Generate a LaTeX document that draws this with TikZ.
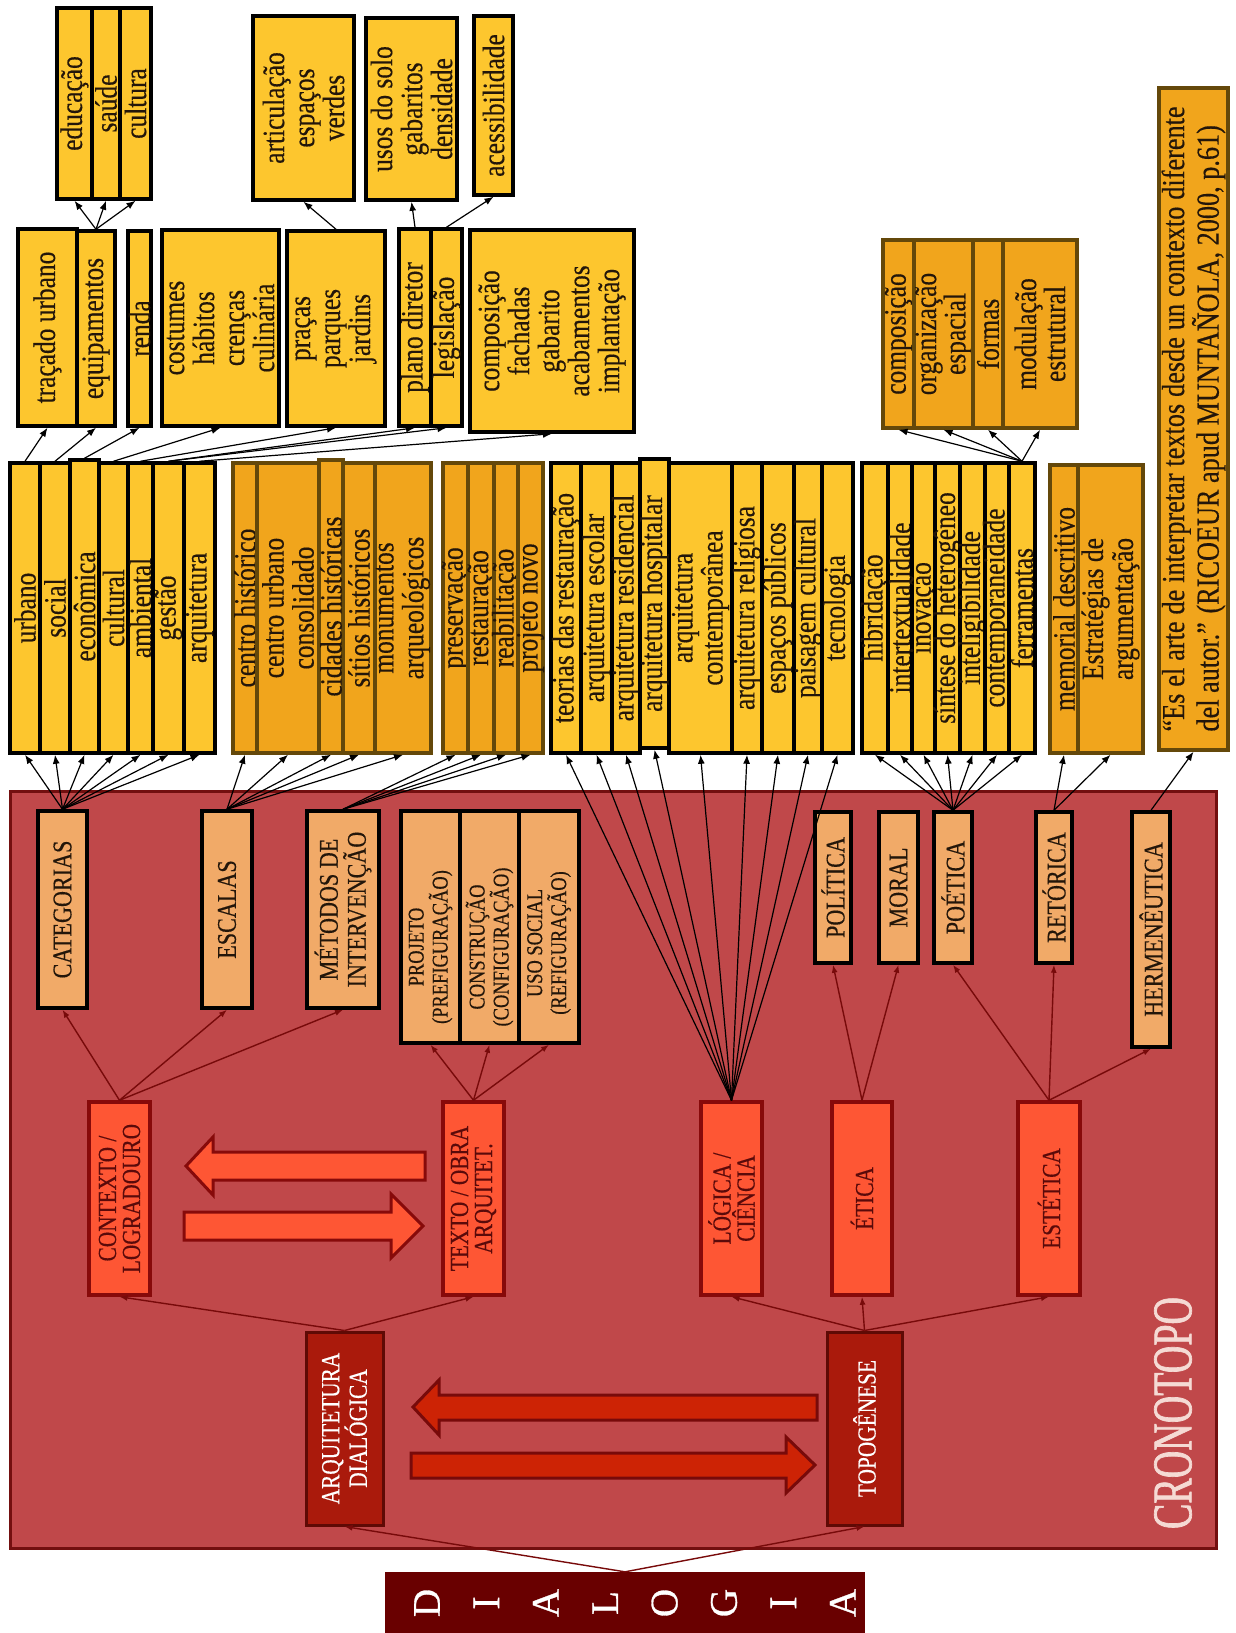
\documentclass[tikz,border=0pt]{standalone}
\usepackage{fontspec}
\setmainfont{Liberation Serif}
\newfontfamily\dgfont{Liberation Serif}[FakeStretch=0.82,FakeBold=0.4]
\newfontfamily\crfont{Liberation Serif}[FakeStretch=0.68,FakeBold=1.2]
\newfontfamily\dlfont{Liberation Serif}[FakeBold=0.8]
\usetikzlibrary{arrows.meta}
\definecolor{yel}{RGB}{253,198,46}
\definecolor{org}{RGB}{241,165,28}
\definecolor{olv}{RGB}{100,72,10}
\definecolor{tanc}{RGB}{241,170,104}
\definecolor{redbg}{RGB}{192,72,74}
\definecolor{redbd}{RGB}{115,15,15}
\definecolor{lonec}{RGB}{254,86,52}
\definecolor{loned}{RGB}{135,10,10}
\definecolor{lzeroc}{RGB}{170,26,12}
\definecolor{lzerod}{RGB}{95,10,5}
\definecolor{dialc}{RGB}{105,0,0}
\definecolor{arrtwo}{RGB}{205,35,5}
\definecolor{rdline}{RGB}{120,10,10}
\definecolor{txtd}{RGB}{35,22,10}
\definecolor{txtr}{RGB}{90,10,10}
\definecolor{cronoc}{RGB}{245,218,212}
\newcommand\mycell[8]{%
  \node[#6, minimum width={(#4-#2)*1pt}, minimum height={(#5-#3)*1pt}, inner sep=0pt] (#1) at ({(#2+#4)/2},{(#3+#5)/2}) {};
  \node[#7] (#1t) at (#1.center) {#8};}
\newcommand\mycellsh[9]{%
  \node[#6, minimum width={(#4-#2)*1pt}, minimum height={(#5-#3)*1pt}, inner sep=0pt] (#1) at ({(#2+#4)/2},{(#3+#5)/2}) {};
  \node[#7] (#1t) at ([yshift=#8]#1.center) {#9};}
\begin{document}
\begin{tikzpicture}[x=1pt,y=-1pt,
  yb/.style={draw=black, line width=3.5pt, fill=yel},
  ob/.style={draw=olv, line width=3.5pt, fill=org},
  tb/.style={draw=black, line width=3.5pt, fill=tanc},
  lone/.style={draw=loned, line width=3.5pt, fill=lonec},
  lzero/.style={draw=lzerod, line width=3pt, fill=lzeroc},
  txbase/.style={rotate=90, align=center, inner sep=0pt},
  ty/.style={txbase, text=txtd, font=\dgfont\fontsize{31}{30}\selectfont},
  tg/.style={txbase, text=txtd, font=\dgfont\fontsize{31}{28}\selectfont},
  tc/.style={txbase, text=txtd, font=\dgfont\fontsize{27}{28}\selectfont},
  tp/.style={txbase, text=txtd, font=\dgfont\fontsize{22.5}{24}\selectfont},
  tone/.style={txbase, text=txtr, font=\dgfont\fontsize{26}{24}\selectfont},
  tzero/.style={txbase, text=white, font=\dgfont\fontsize{26}{26}\selectfont},
  blk/.style={draw=black, line width=1.2pt, -{Latex[length=9pt,width=7pt]}},
  rdc/.style={draw=rdline, line width=1.4pt, -{Latex[length=8pt,width=6pt]}},
  bigone/.style={draw=loned, line width=3pt, fill=lonec, line join=miter},
  bigtwo/.style={draw=rdline, line width=3pt, fill=arrtwo, line join=miter}]
\useasboundingbox (0,0) rectangle (1235,1633);

% big red region
\node[draw=redbd, line width=3pt, fill=redbg, minimum width=1206pt, minimum height=757pt, inner sep=0pt] (cronobox) at (613,1169.5) {};
\node[rotate=90, text=cronoc, font=\crfont\fontsize{56}{56}\selectfont, inner sep=0pt] (crono) at (1173,1413) {CRONOTOPO};

% block arrows
\draw[bigone] (425,1152) -- (213,1152) -- (213,1137) -- (186,1166) -- (213,1195) -- (213,1180) -- (425,1180) -- cycle;
\draw[bigone] (184,1212) -- (391,1212) -- (391,1194) -- (423,1226) -- (391,1258) -- (391,1240) -- (184,1240) -- cycle;
\draw[bigtwo] (817,1395) -- (439,1395) -- (439,1380) -- (413,1407) -- (439,1435) -- (439,1420) -- (817,1420) -- cycle;
\draw[bigtwo] (411,1453) -- (786,1453) -- (786,1437) -- (815,1465) -- (786,1493) -- (786,1478) -- (411,1478) -- cycle;

% DIALOGIA
\node[fill=dialc, minimum width=480pt, minimum height=61pt, inner sep=0pt] (dialogia) at (625,1602.5) {};
\foreach \l [count=\i] in {D,I,A,L,O,G,I,A}
  \node[rotate=90, text=white, font=\dlfont\fontsize{39}{39}\selectfont, inner sep=0pt] (dl\i) at ({427+(\i-1)*59.4},1603) {\l};

% level 0
\mycell{arq}{306}{1332}{383}{1525}{lzero}{tzero}{ARQUITETURA\\DIALÓGICA}
\mycell{topo}{827}{1332}{902}{1525}{lzero}{tzero}{TOPOGÊNESE}

% level 1
\mycell{ctx}{89}{1102}{150}{1295}{lone}{tone}{CONTEXTO /\\LOGRADOURO}
\mycell{txt}{443}{1102}{504}{1295}{lone}{tone}{TEXTO / OBRA\\ARQUITET.}
\mycell{logi}{701}{1102}{762}{1295}{lone}{tone}{LÓGICA /\\CIÊNCIA}
\mycell{etic}{832}{1102}{892}{1295}{lone}{tone}{ÉTICA}
\mycell{este}{1018}{1102}{1080}{1295}{lone}{tone}{ESTÉTICA}

% level 2 (inside red)
\mycell{categ}{38}{811}{87}{1008}{tb}{tc}{CATEGORIAS}
\mycell{escal}{202}{811}{252}{1008}{tb}{tc}{ESCALAS}
\mycell{metod}{307}{811}{379}{1008}{tb}{tc}{MÉTODOS DE\\INTERVENÇÃO}
\mycellsh{proj}{401}{811}{460}{1043}{tb}{tp}{-20pt}{PROJETO\\(PREFIGURAÇÃO)}
\mycellsh{constr}{460}{811}{519}{1043}{tb}{tp}{-20pt}{CONSTRUÇÃO\\(CONFIGURAÇÃO)}
\mycellsh{usoso}{519}{811}{579}{1043}{tb}{tp}{-16pt}{USO SOCIAL\\(REFIGURAÇÃO)}
\mycell{polit}{815}{812}{851}{963}{tb}{tc}{POLÍTICA}
\mycell{moral}{879}{812}{918}{963}{tb}{tc}{MORAL}
\mycell{poet}{934}{812}{972}{963}{tb}{tc}{POÉTICA}
\mycell{retor}{1036}{812}{1072}{963}{tb}{tc}{RETÓRICA}
\mycell{herm}{1132}{812}{1170}{1047}{tb}{tc}{HERMENÊUTICA}

% group A
\mycell{urbano}{10}{463}{40}{753}{yb}{ty}{urbano}
\mycell{social}{40}{463}{70}{753}{yb}{ty}{social}
\mycell{econ}{70}{460}{99}{753}{yb}{ty}{econômica}
\mycell{cultural}{99}{463}{128}{753}{yb}{ty}{cultural}
\mycell{ambient}{128}{463}{153}{753}{yb}{ty}{ambiental}
\mycell{gestao}{153}{463}{184}{753}{yb}{ty}{gestão}
\mycell{arqui}{184}{463}{215}{753}{yb}{ty}{arquitetura}
% group B
\mycell{ch}{233}{463}{257}{753}{ob}{ty}{centro histórico}
\mycell{cuc}{257}{463}{319}{753}{ob}{ty}{centro urbano\\consolidado}
\mycell{sitios}{343}{463}{375}{753}{ob}{ty}{sítios históricos}
\mycell{monu}{375}{463}{431}{753}{ob}{ty}{monumentos\\arqueológicos}
\mycell{cidh}{319}{460}{343}{753}{ob}{ty}{cidades históricas}
% group C
\mycell{pres}{443}{463}{468}{753}{ob}{ty}{preservação}
\mycell{rest}{468}{463}{494}{753}{ob}{ty}{restauração}
\mycell{reab}{494}{463}{518}{753}{ob}{ty}{reabilitação}
\mycell{pnovo}{518}{463}{543}{753}{ob}{ty}{projeto novo}
% group D
\mycell{teor}{551}{463}{581}{753}{yb}{ty}{teorias das restauração}
\mycell{aesc}{581}{463}{612}{753}{yb}{ty}{arquitetura escolar}
\mycell{ares}{612}{463}{640}{753}{yb}{ty}{arquitetura residencial}
\mycell{acont}{669}{463}{732}{753}{yb}{ty}{arquitetura\\contemporânea}
\mycell{ahosp}{640}{459}{669}{748}{yb}{ty}{arquitetura hospitalar}
\mycell{arel}{732}{463}{762}{753}{yb}{ty}{arquitetura religiosa}
\mycell{esp}{762}{463}{794}{753}{yb}{ty}{espaços públicos}
\mycell{pais}{794}{463}{822}{753}{yb}{ty}{paisagem cultural}
\mycell{tec}{822}{463}{853}{753}{yb}{ty}{tecnologia}
% group E
\mycell{hib}{862}{463}{888}{753}{yb}{ty}{hibridação}
\mycell{inter}{888}{463}{912}{753}{yb}{ty}{intertextualidade}
\mycell{inov}{912}{463}{935}{753}{yb}{ty}{inovação}
\mycell{sint}{935}{463}{960}{753}{yb}{ty}{síntese do heterogêneo}
\mycell{intel}{960}{463}{985}{753}{yb}{ty}{inteligibilidade}
\mycell{contemp}{985}{463}{1009}{753}{yb}{ty}{contemporaneidade}
\mycell{ferr}{1009}{463}{1035}{753}{yb}{ty}{ferramentas}
% group F
\mycell{memo}{1050}{465}{1078}{753}{ob}{ty}{memorial descritivo}
\mycell{estr}{1078}{465}{1143}{753}{ob}{ty}{Estratégias de\\argumentação}
% quote
\node[ob, minimum width=69pt, minimum height=662pt, inner sep=0pt] (quote) at (1193.5,419) {};
\node[rotate=90, align=left, inner sep=0pt, text=txtd, font=\dgfont\fontsize{32}{32}\selectfont] (quotet) at (quote.center)
  {\makebox[625pt][s]{“Es el arte de interpretar textos desde un contexto diferente}\\del autor.” (RICOEUR apud MUNTAÑOLA, 2000, p.61)};
% group G
\mycell{gcomp}{883}{240}{914}{428}{ob}{tg}{composição}
\mycell{gorg}{914}{240}{973}{428}{ob}{tg}{organização\\espacial}
\mycell{gform}{973}{240}{1003}{428}{ob}{tg}{formas}
\mycell{gmod}{1003}{240}{1077}{428}{ob}{tg}{modulação\\estrutural}

% level 2 top
\mycell{trac}{18}{229}{77}{426}{yb}{ty}{traçado urbano}
\mycell{equip}{77}{231}{115}{426}{yb}{ty}{equipamentos}
\mycell{renda}{128}{231}{151}{426}{yb}{ty}{renda}
\mycell{cost}{162}{230}{279}{426}{yb}{ty}{costumes\\hábitos\\crenças\\culinária}
\mycell{prac}{287}{231}{385}{426}{yb}{ty}{praças\\parques\\jardins}
\mycell{plano}{399}{229}{431}{426}{yb}{ty}{plano diretor}
\mycell{legis}{431}{229}{462}{426}{yb}{ty}{legislação}
\mycell{compo}{470}{230}{634}{432}{yb}{ty}{composição\\fachadas\\gabarito\\acabamentos\\implantação}

% level 3
\mycell{edu}{57}{8}{92}{199}{yb}{ty}{educação}
\mycell{sau}{92}{8}{120}{199}{yb}{ty}{saúde}
\mycell{cul}{120}{8}{151}{199}{yb}{ty}{cultura}
\mycell{artic}{253}{16}{354}{200}{yb}{ty}{articulação\\espaços\\verdes}
\mycell{usos}{366}{18}{457}{200}{yb}{ty}{usos do solo\\gabaritos\\densidade}
\mycell{acess}{474}{16}{513}{195}{yb}{ty}{acessibilidade}

% red connectors
\draw[rdc] (dialogia.north) -- (arq.south);
\draw[rdc] (dialogia.north) -- (topo.south);
\foreach \t in {ctx,txt} \draw[rdc] (arq.north) -- (\t.south);
\foreach \t in {logi,etic,este} \draw[rdc] (topo.north) -- (\t.south);
\foreach \t in {categ,escal,metod} \draw[rdc] (ctx.north) -- (\t.south);
\foreach \t in {proj,constr,usoso} \draw[rdc] (txt.north) -- (\t.south);
\foreach \t in {polit,moral} \draw[rdc] (etic.north) -- (\t.south);
\foreach \t in {poet,retor,herm} \draw[rdc] (este.north) -- (\t.south);

% black connectors
\foreach \t in {urbano,social,econ,cultural,ambient,gestao,arqui} \draw[blk] (categ.north) -- (\t.south);
\foreach \t in {ch,cuc,cidh,sitios,monu} \draw[blk] (escal.north) -- (\t.south);
\foreach \t in {pres,rest,reab,pnovo} \draw[blk] (metod.north) -- (\t.south);
\foreach \t in {teor,aesc,ares,ahosp,acont,arel,esp,pais,tec} \draw[blk] (logi.north) -- (\t.south);
\foreach \t in {hib,inter,inov,sint,intel,contemp,ferr} \draw[blk] (poet.north) -- (\t.south);
\foreach \t in {memo,estr} \draw[blk] (retor.north) -- (\t.south);
\draw[blk] (herm.north) -- (quote.south);
\foreach \t in {gcomp,gorg,gform,gmod} \draw[blk] (ferr.north) -- (\t.south);
\draw[blk] (urbano.north) -- (trac.south);
\draw[blk] (social.north) -- (equip.south);
\draw[blk] (econ.north) -- (renda.south);
\draw[blk] (cultural.north) -- (cost.south);
\draw[blk] (ambient.north) -- (prac.south);
\draw[blk] (gestao.north) -- (plano.south);
\draw[blk] (gestao.north) -- (legis.south);
\draw[blk] (arqui.north) -- (compo.south);
\foreach \t in {edu,sau,cul} \draw[blk] (equip.north) -- (\t.south);
\draw[blk] (prac.north) -- (artic.south);
\draw[blk] (plano.north) -- (usos.south);
\draw[blk] (legis.north) -- (acess.south);
\end{tikzpicture}
\end{document}
